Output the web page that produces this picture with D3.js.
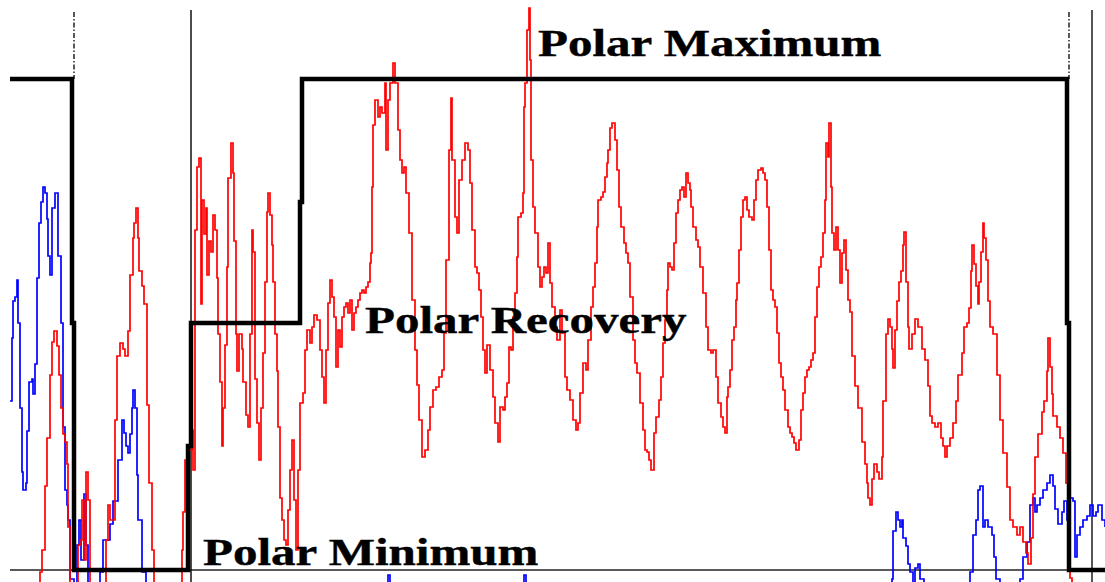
<!DOCTYPE html>
<html>
<head>
<meta charset="utf-8">
<script src="https://cdn.jsdelivr.net/npm/d3@7"></script>
<style>
  html, body { margin: 0; padding: 0; background: #fff; }
  svg { display: block; }
</style>
</head>
<body>
<svg id="chart" width="1105" height="582"></svg>
<script>
// Days since start of record, and index value (0 = polar minimum level)
const redSeries = [
  [0,-40],[26,-30],[30,-2],[32,20],[35,84],[37,132],[40,195],[42,228],[44,239],[47,224],[49,195],[51,162],
  [53,136],[55,128],[57,106],[58,43],[60,-20],[64,-20],[68,25],[70,30],[72,70],[74,10],[76,98],[78,70],
  [80,-20],[85,-30],[94,-20],[96,30],[98,65],[100,50],[105,150],[107,214],[110,227],[113,221],[115,214],
  [118,239],[120,295],[123,332],[124,347],[126,362],[128,332],[129,299],[132,284],[134,266],[137,165],
  [139,87],[142,20],[144,-20],[155,-30],[170,-20],[172,20],[173,58],[175,110],[177,76],[179,120],[182,140],
  [183,100],[185,340],[187,403],[189,412],[191,266],[192,370],[194,336],[196,362],[197,295],[199,329],
  [201,318],[203,355],[205,340],[207,292],[208,236],[210,188],[212,124],[213,162],[215,225],[217,303],
  [218,392],[221,427],[223,397],[224,329],[226,236],[227,199],[229,236],[232,221],[233,188],[236,155],
  [238,143],[240,236],[242,340],[243,318],[245,191],[247,147],[249,110],[251,162],[253,217],[255,288],
  [257,358],[258,377],[260,355],[262,325],[263,288],[265,236],[267,199],[268,143],[270,72],[272,50],
  [274,30],[276,25],[278,60],[280,100],[282,130],[284,70],[286,20],[288,100],[290,167],[293,177],[295,220],
  [297,240],[300,227],[302,243],[304,255],[307,250],[310,220],[312,193],[314,167],[316,220],[318,267],
  [320,290],[322,273],[324,253],[326,203],[328,240],[330,223],[332,253],[334,263],[336,267],[338,257],
  [340,270],[342,240],[344,257],[346,263],[348,270],[350,277],[352,280],[354,277],[356,283],[358,288],
  [360,307],[361,317],[362,383],[363,445],[365,470],[368,453],[370,463],[372,457],[375,487],[376,420],
  [378,470],[380,487],[383,507],[385,487],[388,440],[390,410],[392,397],[394,403],[396,377],[399,337],
  [402,270],[405,220],[407,185],[409,150],[412,113],[415,120],[418,140],[420,163],[423,180],[426,183],
  [429,193],[432,200],[434,237],[436,310],[439,420],[441,472],[442,410],[445,353],[447,337],[449,390],
  [452,410],[455,427],[458,420],[460,387],[462,340],[465,303],[467,297],[469,280],[471,253],[473,220],
  [475,197],[477,225],[480,200],[483,173],[485,147],[488,128],[490,163],[493,160],[495,173],[497,187],
  [499,223],[501,220],[503,253],[505,277],[507,313],[508,353],[511,357],[513,377],[514,463],[515,487],
  [517,540],[519,562],[520,510],[521,410],[523,363],[525,337],[528,303],[530,283],[532,293],[534,303],
  [536,297],[538,327],[540,287],[542,263],[545,243],[547,230],[550,260],[552,237],[555,193],[557,180],
  [560,170],[563,150],[566,140],[568,147],[570,177],[573,207],[576,200],[578,230],[581,263],[583,283],
  [585,307],[587,343],[588,370],[591,373],[593,378],[595,393],[597,407],[598,420],[600,442],[602,447],
  [605,430],[607,400],[609,363],[611,343],[614,327],[616,317],[618,307],[620,273],[623,230],[625,207],
  [627,197],[630,167],[633,140],[635,120],[637,118],[639,110],[641,100],[644,137],[646,153],[649,170],
  [651,193],[653,227],[655,250],[657,280],[658,307],[660,303],[662,300],[664,327],[666,357],[668,370],
  [670,380],[672,383],[674,373],[676,397],[678,387],[680,380],[681,363],[683,343],[686,330],[688,323],
  [690,303],[693,277],[696,243],[698,220],[701,217],[703,220],[706,193],[708,167],[711,153],[713,143],
  [715,137],[717,173],[718,183],[720,200],[722,230],[724,243],[726,270],[727,287],[729,320],[731,353],
  [733,370],[735,373],[737,360],[739,353],[742,350],[744,370],[746,390],[748,400],[751,402],[753,397],
  [755,390],[757,363],[759,320],[761,280],[763,270],[765,263],[767,237],[769,207],[771,193],[773,180],
  [775,160],[778,143],[780,137],[782,133],[784,127],[786,120],[789,130],[791,160],[793,177],[795,193],
  [797,200],[799,203],[801,210],[803,217],[805,253],[807,283],[809,303],[811,313],[813,337],[815,370],
  [816,427],[818,413],[819,447],[821,383],[822,337],[824,320],[826,343],[828,320],[830,287],[832,317],
  [834,330],[836,300],[838,270],[840,258],[842,214],[845,184],[848,162],[852,128],[855,106],[857,87],
  [858,72],[860,65],[862,91],[864,106],[867,98],[869,91],[872,113],[873,169],[876,236],[878,251],
  [880,243],[882,221],[883,202],[885,240],[887,269],[889,288],[891,299],[893,325],[894,338],[896,288],
  [898,243],[899,221],[902,236],[905,251],[908,243],[912,221],[915,210],[918,184],[920,154],[922,147],
  [925,143],[928,147],[931,132],[933,124],[935,113],[937,124],[940,132],[943,147],[946,169],[948,195],
  [952,217],[954,243],[957,247],[959,262],[961,299],[962,325],[964,306],[966,284],[968,266],[969,288],
  [971,318],[973,347],[974,332],[976,310],[978,269],[980,243],[983,236],[987,195],[990,150],[993,117],
  [997,83],[1000,50],[1003,43],[1007,35],[1010,43],[1013,28],[1016,17],[1018,6],[1021,32],[1023,76],
  [1025,113],[1028,136],[1032,158],[1034,169],[1037,199],[1038,232],[1040,203],[1042,176],[1043,154],
  [1047,143],[1050,132],[1053,117],[1056,87],[1058,50],[1060,-8],[1062,-30],[1095,-40]
];

const blueSeries = [
  [0,169],[2,232],[3,269],[5,273],[7,290],[8,247],[10,162],[12,98],[13,80],[16,87],[17,139],[19,188],
  [22,191],[23,176],[25,206],[27,292],[29,347],[31,368],[33,383],[35,377],[37,351],[38,314],[40,295],
  [42,362],[45,377],[47,377],[48,314],[51,247],[53,143],[55,80],[57,65],[58,50],[60,-9],[64,-20],[67,25],
  [69,50],[71,10],[74,76],[76,25],[78,-20],[88,-20],[90,-2],[93,30],[100,46],[103,69],[108,110],[112,150],
  [114,137],[116,124],[118,117],[120,136],[122,162],[123,180],[125,162],[127,95],[128,50],[132,-2],
  [136,-30],[190,-40],[290,-35],[370,-30],[376,-20],[378,-5],[380,-20],[390,-35],[490,-30],[512,-20],
  [514,-5],[516,-20],[530,-35],[690,-40],[850,-30],[880,-20],[882,-9],[883,39],[886,58],[888,50],[890,43],
  [892,50],[893,32],[896,24],[898,6],[900,-2],[903,-15],[905,2],[908,6],[910,-9],[914,-25],[950,-25],
  [960,-2],[963,35],[966,50],[968,80],[970,84],[973,43],[975,50],[978,43],[982,35],[984,13],[986,-9],
  [990,-25],[1006,-20],[1010,-9],[1013,13],[1017,28],[1020,65],[1023,72],[1025,58],[1027,65],[1030,72],
  [1033,80],[1037,87],[1040,95],[1043,84],[1045,61],[1048,46],[1052,58],[1054,69],[1057,50],[1060,72],
  [1063,69],[1065,13],[1067,35],[1070,43],[1073,50],[1077,54],[1080,65],[1083,54],[1086,58],[1088,65],
  [1092,50],[1095,43]
];

// Phase level (step function): 491 = maximum, 247 = recovery, 0 = minimum
const phaseSteps = [
  [0,491],[62,247],[64,0],[178,124],[181,247],[290,368],[292,491],[1057,247],[1059,0],[1095,0]
];

const dashedMarkerDays = [64, 1059];
const boundaryDays = [181, 1082];

const phaseLabels = ["Polar Maximum", "Polar Recovery", "Polar Minimum"];
const phaseLabelDays = [528, 355, 193];
const phaseLabelLevels = [514, 237, 5];

const W = 1105, H = 582;
const svg = d3.select("#chart");

const x = d3.scaleLinear().domain([0, 1095]).range([10, 1105]);
const y = d3.scaleLinear().domain([0, 491]).range([570, 79]);
const plotTop = 10;

const line = d3.line()
  .x(d => x(d[0]))
  .y(d => y(d[1]))
  .curve(d3.curveStepAfter);

// baseline at the minimum level
svg.append("line")
  .attr("x1", x(0)).attr("x2", W)
  .attr("y1", y(0)).attr("y2", y(0))
  .attr("stroke", "#222").attr("stroke-width", 1.5);

// dashed markers from the top down to the maximum level
svg.selectAll("line.marker")
  .data(dashedMarkerDays)
  .join("line")
  .attr("class", "marker")
  .attr("x1", d => x(d)).attr("x2", d => x(d))
  .attr("y1", plotTop + 2).attr("y2", y(491))
  .attr("stroke", "#000").attr("stroke-width", 1.3)
  .attr("stroke-dasharray", "5,2,1.5,2");

// period boundaries
svg.selectAll("line.boundary")
  .data(boundaryDays)
  .join("line")
  .attr("class", "boundary")
  .attr("x1", d => x(d)).attr("x2", d => x(d))
  .attr("y1", plotTop).attr("y2", H)
  .attr("stroke", (d, i) => i === 0 ? "#111" : "#555")
  .attr("stroke-width", (d, i) => i === 0 ? 1.5 : 2);

svg.append("path")
  .datum(blueSeries)
  .attr("d", line)
  .attr("fill", "none")
  .attr("stroke", "#0000ff")
  .attr("stroke-width", 1.7);

svg.append("path")
  .datum(redSeries)
  .attr("d", line)
  .attr("fill", "none")
  .attr("stroke", "#ff0000")
  .attr("stroke-width", 1.7);

svg.append("path")
  .datum(phaseSteps)
  .attr("d", line)
  .attr("fill", "none")
  .attr("stroke", "#000")
  .attr("stroke-width", 4.5)
  .attr("stroke-linejoin", "miter");

// phase labels
svg.selectAll("text.phase")
  .data(phaseLabels)
  .join("text")
  .attr("class", "phase")
  .attr("transform", (d, i) => `translate(${x(phaseLabelDays[i])},${y(phaseLabelLevels[i])}) scale(1.29,1)`)
  .attr("font-family", "'Liberation Serif', 'Times New Roman', serif")
  .attr("font-weight", "bold")
  .attr("font-size", 38)
  .attr("fill", "#000")
  .attr("stroke", "#000")
  .attr("stroke-width", 0.4)
  .text(d => d);
</script>
</body>
</html>
